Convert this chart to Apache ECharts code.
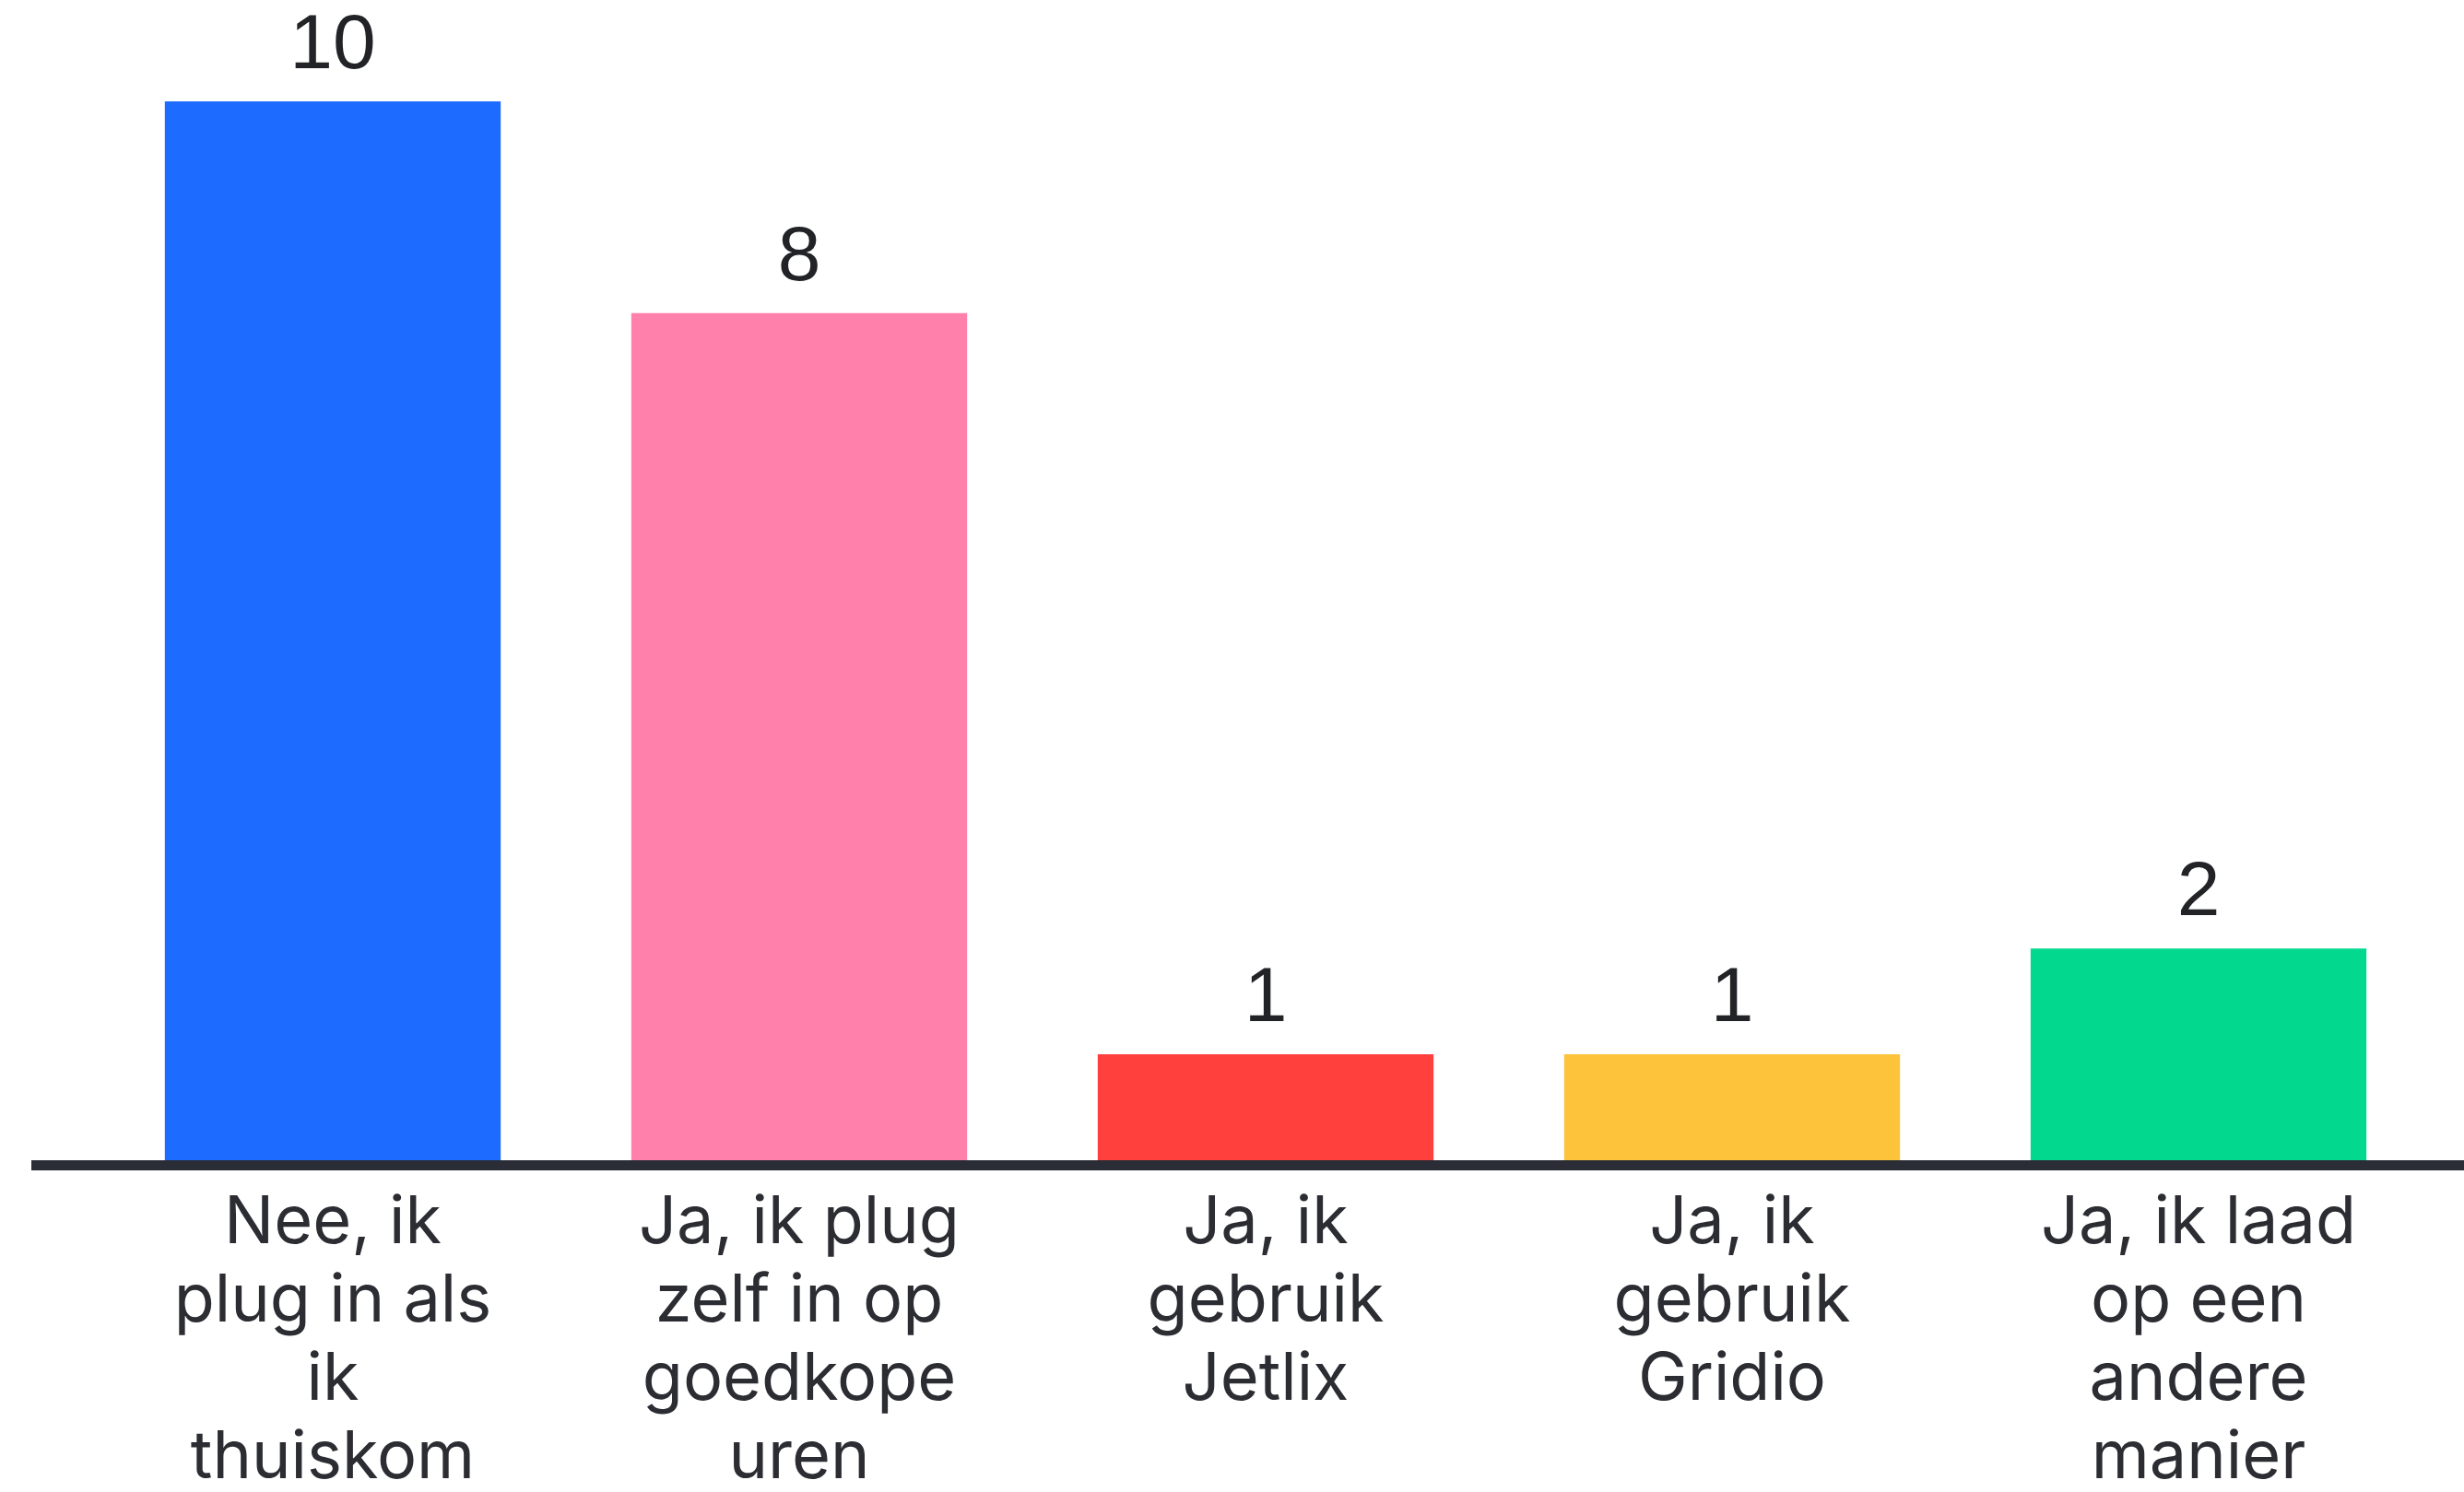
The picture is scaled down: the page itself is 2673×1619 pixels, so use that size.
<!DOCTYPE html>
<html>
<head>
<meta charset="utf-8">
<script src="https://cdn.jsdelivr.net/npm/echarts@6/dist/echarts.min.js"></script>
<style>
html,body{margin:0;padding:0;background:#ffffff;}
#chart{width:2673px;height:1619px;}
</style>
</head>
<body>
<div id="chart"></div>
<script>
const categories = [
  "Nee, ik\nplug in als\nik\nthuiskom",
  "Ja, ik plug\nzelf in op\ngoedkope\nuren",
  "Ja, ik\ngebruik\nJetlix",
  "Ja, ik\ngebruik\nGridio",
  "Ja, ik laad\nop een\nandere\nmanier"
];
const values = [10, 8, 1, 1, 2];
const barColors = ["#1d6bff", "#ff80ab", "#ff403d", "#fdc43b", "#02d98f"];

const chart = echarts.init(document.getElementById('chart'));
const lineY = 1264.5;
chart.setOption({
  backgroundColor: '#ffffff',
  animation: false,
  grid: { left: 108, right: 35, top: 110, bottom: 360, outerBoundsMode: 'none', containLabel: false },
  xAxis: {
    type: 'category',
    data: categories,
    axisLine: { show: false },
    axisTick: { show: false },
    axisLabel: {
      interval: 0,
      margin: 26,
      color: '#2b2d33',
      fontFamily: 'Inter',
      fontSize: 72,
      lineHeight: 85,
      align: 'center',
      verticalAlign: 'top'
    },
    splitLine: { show: false }
  },
  yAxis: {
    type: 'value',
    min: 0,
    max: 10,
    show: false,
    splitLine: { show: false }
  },
  graphic: [{
    type: 'line',
    shape: { x1: 34, y1: lineY, x2: 2673, y2: lineY },
    style: { stroke: '#2a2d35', lineWidth: 11 },
    z: 100
  }],
  series: [{
    type: 'bar',
    data: values.map((v, i) => ({ value: v, itemStyle: { color: barColors[i] } })),
    barWidth: '72%',
    label: {
      show: true,
      position: 'top',
      distance: 17,
      color: '#222326',
      fontFamily: 'Liberation Sans',
      fontSize: 84
    }
  }]
});
</script>
</body>
</html>
